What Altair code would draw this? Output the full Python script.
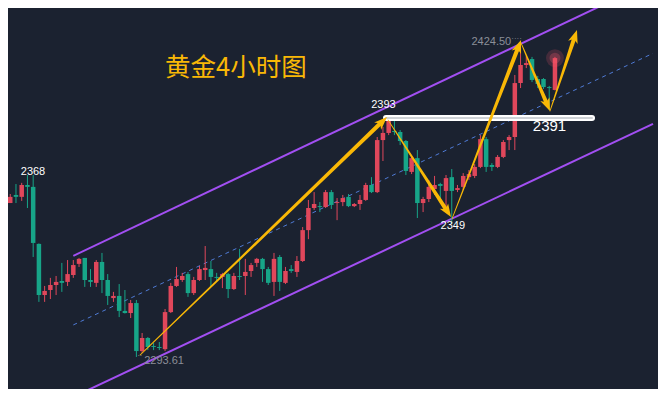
import math
import altair as alt
import pandas as pd

# ---------------- data ----------------
opens = [
    2335.3, 2350.0, 2358.4, 2361.8, 2361.0, 2366.0, 2365.2, 2341.2, 2319.7, 2321.8,
    2323.9, 2325.6, 2325.2, 2328.1, 2332.8, 2335.3, 2326.0, 2324.8, 2333.6, 2326.0,
    2318.4, 2319.3, 2313.0, 2312.1, 2316.3, 2296.1, 2301.6, 2298.2, 2297.8, 2296.9,
    2312.5, 2323.5, 2326.0, 2328.5, 2320.5, 2326.0, 2330.2, 2330.6, 2327.3, 2327.3,
    2328.5, 2322.2, 2327.7, 2327.7, 2329.8, 2333.2, 2334.9, 2330.6, 2325.2, 2335.7,
    2324.8, 2330.6, 2329.4, 2334.0, 2347.0, 2356.3, 2357.1, 2356.7, 2363.0, 2358.4,
    2358.8, 2361.0, 2357.1, 2358.0, 2359.7, 2366.0, 2363.0, 2384.9, 2387.9, 2388.7,
    2388.3, 2384.5, 2371.5, 2377.3, 2358.4, 2360.1, 2364.3, 2366.4, 2363.5, 2369.3,
    2363.9, 2365.2, 2369.3, 2369.8, 2373.6, 2385.3, 2374.4, 2373.6, 2377.8, 2384.9,
    2386.2, 2408.9, 2416.5, 2419.0, 2410.6, 2410.6, 2407.2, 2406.0,
]
highs = [
    2352.1, 2366.9, 2362.2, 2366.4, 2366.9, 2370.2, 2370.2, 2341.4, 2323.5, 2326.9,
    2327.7, 2333.2, 2334.4, 2334.4, 2335.3, 2335.3, 2330.6, 2334.4, 2337.4, 2328.5,
    2321.0, 2324.3, 2321.8, 2317.6, 2317.6, 2303.7, 2302.0, 2299.5, 2299.9, 2313.8,
    2324.8, 2331.5, 2329.0, 2329.4, 2327.3, 2331.9, 2340.3, 2334.0, 2329.0, 2329.0,
    2329.0, 2329.0, 2339.1, 2334.9, 2333.2, 2335.3, 2335.3, 2331.5, 2337.4, 2336.5,
    2331.5, 2332.3, 2336.1, 2348.3, 2359.7, 2363.0, 2358.8, 2363.9, 2363.9, 2360.5,
    2361.8, 2362.2, 2358.4, 2361.8, 2366.9, 2369.3, 2386.2, 2390.4, 2394.0, 2393.3,
    2389.1, 2384.9, 2378.2, 2380.7, 2361.0, 2368.1, 2369.8, 2366.9, 2370.2, 2372.7,
    2366.0, 2371.0, 2372.3, 2374.8, 2387.0, 2386.2, 2375.2, 2378.6, 2384.9, 2387.0,
    2412.3, 2424.5, 2420.3, 2419.9, 2411.9, 2411.0, 2407.7, 2419.9,
]
lows = [
    2333.6, 2349.6, 2358.4, 2358.4, 2359.3, 2356.3, 2335.7, 2316.8, 2316.8, 2318.0,
    2319.7, 2321.0, 2323.5, 2326.9, 2331.5, 2323.1, 2323.1, 2323.1, 2320.5, 2315.5,
    2316.8, 2310.4, 2311.9, 2310.0, 2293.61, 2295.3, 2296.5, 2296.5, 2296.5, 2296.1,
    2312.1, 2323.1, 2325.2, 2318.9, 2319.7, 2325.6, 2326.0, 2323.1, 2325.2, 2322.6,
    2318.4, 2321.8, 2326.0, 2319.7, 2327.3, 2331.5, 2325.2, 2323.9, 2319.3, 2321.4,
    2324.3, 2329.0, 2327.3, 2333.6, 2343.2, 2355.5, 2354.6, 2356.3, 2355.9, 2351.2,
    2357.1, 2356.7, 2356.7, 2355.5, 2359.3, 2362.6, 2362.6, 2376.1, 2387.0, 2387.0,
    2382.8, 2370.2, 2370.6, 2352.1, 2354.6, 2358.8, 2361.8, 2359.7, 2356.3, 2349.5,
    2363.0, 2363.9, 2368.1, 2368.9, 2373.1, 2371.5, 2371.9, 2373.1, 2377.3, 2380.7,
    2380.7, 2406.8, 2415.2, 2409.3, 2406.8, 2406.4, 2397.6, 2405.8,
]
closes = [
    2350.4, 2358.4, 2361.0, 2361.0, 2366.0, 2365.2, 2341.6, 2319.7, 2321.4, 2323.9,
    2325.2, 2324.8, 2328.5, 2332.3, 2334.9, 2326.0, 2325.2, 2333.6, 2326.0, 2319.3,
    2319.3, 2313.0, 2312.1, 2316.3, 2296.1, 2301.6, 2297.8, 2297.8, 2297.4, 2312.5,
    2323.5, 2326.4, 2327.7, 2320.5, 2326.0, 2330.6, 2331.1, 2327.3, 2326.9, 2328.5,
    2322.2, 2327.7, 2327.3, 2329.4, 2332.3, 2334.9, 2330.6, 2324.8, 2334.9, 2325.2,
    2329.8, 2329.8, 2334.0, 2347.0, 2356.3, 2358.0, 2356.7, 2363.0, 2357.6, 2358.8,
    2360.5, 2357.1, 2358.0, 2359.7, 2366.0, 2363.0, 2384.9, 2387.9, 2393.3, 2388.3,
    2384.5, 2371.9, 2377.3, 2358.4, 2360.1, 2365.2, 2366.0, 2365.6, 2368.9, 2363.5,
    2364.7, 2369.8, 2370.6, 2373.6, 2385.3, 2373.6, 2373.6, 2377.8, 2384.1, 2386.2,
    2408.9, 2416.5, 2417.3, 2410.2, 2408.5, 2407.2, 2406.8, 2419.4,
]
bar_index = list(range(len(opens)))

# regression channel (bar index, price) end points
channel_names = ["upper", "mid", "lower"]
channel_k0 = [13.0, 13.0, 13.0]
channel_p0 = [2336.2, 2307.1, 2276.8]
channel_k1 = [114.1, 114.1, 114.1]
channel_p1 = [2451.8, 2421.4, 2391.7]

# hand-drawn arrows (bar index, price)
arrow_k0 = [24.63, 67.88, 79.04, 91.08, 96.13]
arrow_p0 = [2294.4, 2393.4, 2351.7, 2425.8, 2397.1]
arrow_k1 = [67.71, 78.87, 91.08, 96.13, 100.84]
arrow_p1 = [2394.6, 2352.5, 2427.0, 2397.1, 2431.2]

# horizontal level
level_k = [67.53, 103.46]
level_p = [2394.2, 2394.2]

title_text = "黄金4小时图"
white_labels = ["2368", "2393", "2349"]
white_label_k = [5.97, 67.09, 79.18]
white_label_p = [2371.5, 2399.5, 2348.8]
big_label = "2391"
big_label_k, big_label_p = 96.05, 2390.7
grey_labels = ["2424.50", "2293.61"]
grey_label_k = [85.9, 28.82]
grey_label_p = [2426.1, 2292.0]
marker_dots = ["····", "··"]
marker_k = [90.3, 24.6]
marker_p = [2427.6, 2293.9]

# ---------------- styling ----------------
BG = "#1b2230"
RED = "#e0475b"
TEAL = "#17a588"
GOLD = "#f9b806"
PURPLE = "#a24ff2"
BLUE = "#4f7bd6"
GREY = "#8b8f98"

W, H = 650, 381
K_MIN, K_MAX = 1.61, 114.97
P_MIN, P_MAX = 2280.13, 2440.49
PX_K = W / (K_MAX - K_MIN)
PX_P = H / (P_MAX - P_MIN)

xs = alt.Scale(domain=[K_MIN, K_MAX], nice=False, zero=False, padding=0)
ys = alt.Scale(domain=[P_MIN, P_MAX], nice=False, zero=False, padding=0)


def X(f):
    return alt.X(f, type="quantitative", scale=xs, axis=None)


def Y(f):
    return alt.Y(f, type="quantitative", scale=ys, axis=None)


candles = pd.DataFrame({"k": bar_index, "open": opens, "high": highs,
                        "low": lows, "close": closes})
candles["dir"] = ["up" if c >= o else "down" for o, c in zip(opens, closes)]
col = alt.Color("dir:N", scale=alt.Scale(domain=["up", "down"], range=[RED, TEAL]), legend=None)

wicks = alt.Chart(candles).mark_rule(strokeWidth=1, clip=True).encode(
    x=X("k"), y=Y("low"), y2="high", color=col)
bodies = alt.Chart(candles).mark_bar(size=4.5, clip=True).encode(
    x=X("k"), y=Y("open"), y2="close", color=col)

ch_rows = []
for n, a, b, c, d in zip(channel_names, channel_k0, channel_p0, channel_k1, channel_p1):
    ch_rows += [{"line": n, "k": a, "p": b}, {"line": n, "k": c, "p": d}]
ch = pd.DataFrame(ch_rows)
purple = alt.Chart(ch[ch.line != "mid"]).mark_line(color=PURPLE, strokeWidth=2, clip=True).encode(
    x=X("k"), y=Y("p"), detail="line:N")
midline = alt.Chart(ch[ch.line == "mid"]).mark_line(color=BLUE, strokeWidth=1, strokeDash=[4, 4], clip=True).encode(
    x=X("k"), y=Y("p"))

# arrows: tapered shaft + head
tr_rows, head_rows = [], []
for i, (a, b, c, d) in enumerate(zip(arrow_k0, arrow_p0, arrow_k1, arrow_p1)):
    dxp = (c - a) * PX_K
    dyp = (d - b) * PX_P
    L = math.hypot(dxp, dyp)
    t_end = 1 - 8 / L
    tr_rows.append({"arrow": i, "t": 0, "k": a, "p": b, "w": 0.8})
    tr_rows.append({"arrow": i, "t": 1, "k": a + (c - a) * t_end, "p": b + (d - b) * t_end, "w": 4.2})
    ang = math.degrees(math.atan2(dxp, dyp)) % 360
    head_rows.append({"k": c, "p": d, "ang": ang})
trail = alt.Chart(pd.DataFrame(tr_rows)).mark_trail(color=GOLD, clip=True).encode(
    x=X("k"), y=Y("p"), size=alt.Size("w:Q", scale=None, legend=None),
    detail="arrow:N", order="t:Q")
head_path = "M0,0 L1,2.6 L0,1.9 L-1,2.6 Z"
heads = alt.Chart(pd.DataFrame(head_rows)).mark_point(
    shape=head_path, filled=True, size=100, color=GOLD, opacity=1, strokeWidth=0, clip=True).encode(
    x=X("k"), y=Y("p"), angle=alt.Angle("ang:Q", scale=None))

lvl = pd.DataFrame({"k": level_k, "p": level_p})
lvl_outer = alt.Chart(lvl).mark_line(color="white", strokeWidth=6, strokeCap="round", clip=True).encode(
    x=X("k"), y=Y("p"))
lvl_inner = alt.Chart(lvl).mark_line(color="#cfd2d6", strokeWidth=2, strokeCap="round", clip=True).encode(
    x=X("k"), y=Y("p"))

last = candles.iloc[[-1]]
glow1 = alt.Chart(last).mark_circle(color="#ff5a70", opacity=0.18, size=320, clip=True).encode(
    x=X("k"), y=Y("close"))
glow2 = alt.Chart(last).mark_circle(color="#ff5a70", opacity=0.25, size=120, clip=True).encode(
    x=X("k"), y=Y("close"))

title = alt.Chart(pd.DataFrame({"k": [28.99], "p": [2415.2], "t": [title_text]})).mark_text(
    font="Noto Sans CJK SC", fontSize=25.5, color=GOLD, align="left", baseline="middle", clip=True).encode(
    x=X("k"), y=Y("p"), text="t:N")
wl = alt.Chart(pd.DataFrame({"k": white_label_k, "p": white_label_p, "t": white_labels})).mark_text(
    font="Liberation Sans", fontSize=11, color="white", align="center", baseline="middle", clip=True).encode(
    x=X("k"), y=Y("p"), text="t:N")
bl = alt.Chart(pd.DataFrame({"k": [big_label_k], "p": [big_label_p], "t": [big_label]})).mark_text(
    font="Liberation Sans", fontSize=15, color="white", align="center", baseline="middle", clip=True).encode(
    x=X("k"), y=Y("p"), text="t:N")
gl = alt.Chart(pd.DataFrame({"k": grey_label_k, "p": grey_label_p, "t": grey_labels})).mark_text(
    font="Liberation Sans", fontSize=11, color=GREY, align="center", baseline="middle", clip=True).encode(
    x=X("k"), y=Y("p"), text="t:N")
dots = alt.Chart(pd.DataFrame({"k": marker_k, "p": marker_p, "t": marker_dots})).mark_text(
    font="Liberation Sans", fontSize=8, color=GREY, align="center", baseline="middle", clip=True).encode(
    x=X("k"), y=Y("p"), text="t:N")

chart = alt.layer(
    midline, purple, wicks, bodies, glow1, glow2, lvl_outer, lvl_inner, trail, heads,
    title, wl, bl, gl, dots,
).properties(
    width=W, height=H, padding=0, background=BG,
    autosize=alt.AutoSizeParams(type="fit", contains="padding"),
).configure_view(strokeWidth=0)

chart.save("out.html", embed_options={"renderer": "svg", "actions": False})
